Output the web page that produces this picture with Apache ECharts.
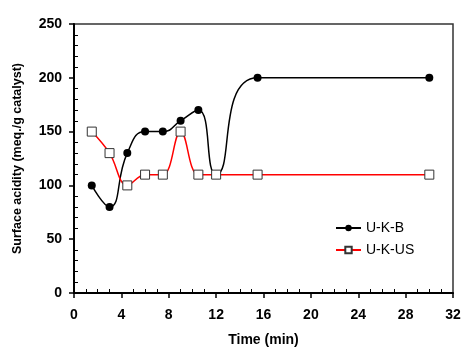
<!DOCTYPE html>
<html>
<head>
<meta charset="utf-8">
<script src="https://cdn.jsdelivr.net/npm/echarts@6/dist/echarts.min.js"></script>
<style>
  html, body { margin: 0; padding: 0; background: #fff; }
  #chart { width: 470px; height: 353px; }
</style>
</head>
<body>
<div id="chart"></div>
<script>
var timeB = [1.5, 3, 4.5, 6, 7.5, 9, 10.5, 12, 15.5, 30];
var acidB = [100, 80, 130, 150, 150, 160, 170, 110, 200, 200];
var timeUS = [1.5, 3, 4.5, 6, 7.5, 9, 10.5, 12, 15.5, 30];
var acidUS = [150, 130, 100, 110, 110, 150, 110, 110, 110, 110];
var seriesNames = ['U-K-B', 'U-K-US'];

function pairs(xs, ys) {
  return xs.map(function (x, i) { return [x, ys[i]]; });
}

var myChart = echarts.init(document.getElementById('chart'));

var tickFont = { color: '#000', fontFamily: 'Liberation Sans', fontWeight: 'bold', fontSize: 14 };

option = {
  animation: false,
  grid: {
    left: 74, right: 17, top: 24, bottom: 60,
    show: true, borderColor: '#333', borderWidth: 1.5
  },
  legend: {
    orient: 'vertical',
    left: 330, top: 216,
    itemWidth: 25, itemHeight: 8, itemGap: 8,
    textStyle: { color: '#000', fontFamily: 'Liberation Sans', fontSize: 14 },
    data: seriesNames
  },
  xAxis: [{
    type: 'value', min: 0, max: 32, interval: 4,
    name: 'Time (min)', nameLocation: 'middle', nameGap: 40,
    nameTextStyle: { color: '#000', fontFamily: 'Liberation Sans', fontWeight: 'bold', fontSize: 14 },
    axisLine: { lineStyle: { color: '#000', width: 2 } },
    axisTick: { length: 5, lineStyle: { color: '#000', width: 1.5 } },
    axisLabel: Object.assign({ margin: 15 }, tickFont),
    splitLine: { show: false }
  }, {
    type: 'value', min: 0, max: 32, interval: 4, position: 'bottom',
    axisLine: { show: false }, axisLabel: { show: false },
    axisTick: { show: false, inside: true },
    minorTick: { show: true, splitNumber: 4, length: 4, lineStyle: { color: '#000', width: 1 } },
    splitLine: { show: false }
  }],
  yAxis: [{
    type: 'value', min: 0, max: 250, interval: 50,
    name: 'Surface acidity (meq./g catalyst)', nameLocation: 'middle', nameGap: 50,
    nameTextStyle: { color: '#000', fontFamily: 'Liberation Sans', fontWeight: 'bold', fontSize: 12.5 },
    axisLine: { lineStyle: { color: '#000', width: 2 } },
    axisTick: { length: 5, lineStyle: { color: '#000', width: 1.5 } },
    axisLabel: Object.assign({ margin: 12 }, tickFont),
    splitLine: { show: false }
  }, {
    type: 'value', min: 0, max: 250, interval: 50, position: 'left',
    axisLine: { show: false }, axisLabel: { show: false },
    axisTick: { show: false, inside: true },
    minorTick: { show: true, splitNumber: 5, length: 4, lineStyle: { color: '#000', width: 1 } },
    splitLine: { show: false }
  }],
  series: [{
    name: seriesNames[0],
    type: 'line',
    smooth: 0.5,
    data: pairs(timeB, acidB),
    symbol: 'circle', symbolSize: 8,
    lineStyle: { color: '#000', width: 1.5 },
    itemStyle: { color: '#000' }
  }, {
    name: seriesNames[1],
    type: 'line',
    smooth: 0.4,
    data: pairs(timeUS, acidUS),
    symbol: 'rect', symbolSize: 9,
    lineStyle: { color: '#ff0000', width: 1.5 },
    itemStyle: { color: '#fff', borderColor: '#333', borderWidth: 1 }
  }]
};

myChart.setOption(option);
</script>
</body>
</html>
